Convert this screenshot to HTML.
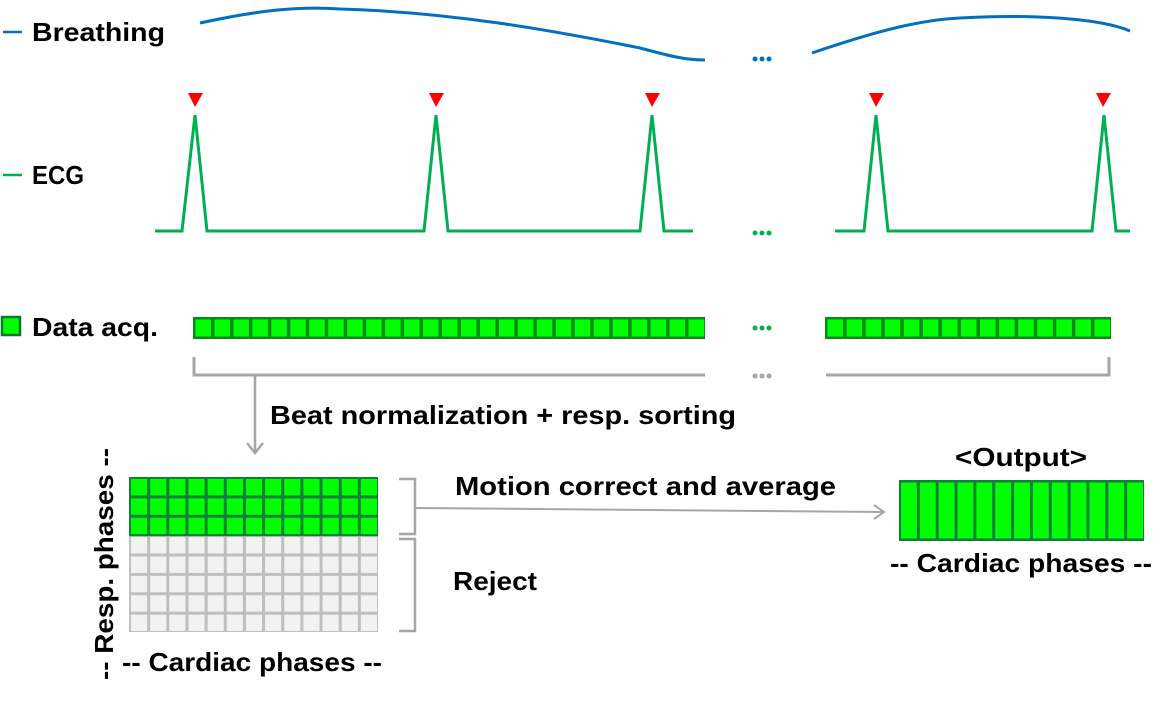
<!DOCTYPE html>
<html><head><meta charset="utf-8"><style>
body{margin:0;background:#fff;}
svg{display:block;font-family:"Liberation Sans",sans-serif;font-weight:bold;}
</style></head><body>
<svg id="s" width="1172" height="701" viewBox="0 0 1172 701" xmlns="http://www.w3.org/2000/svg">
<line x1="3" y1="32" x2="22" y2="32" stroke="#0070c0" stroke-width="2.5"/>
<text x="32" y="41" font-size="26" textLength="133" lengthAdjust="spacingAndGlyphs">Breathing</text>
<line x1="3" y1="175" x2="22" y2="175" stroke="#00b050" stroke-width="2.5"/>
<text x="32" y="184" font-size="26" textLength="52" lengthAdjust="spacingAndGlyphs">ECG</text>
<rect x="2" y="317" width="18" height="18" fill="#00ff00" stroke="#0a7a2a" stroke-width="2.5"/>
<text x="32" y="336" font-size="26" textLength="126" lengthAdjust="spacingAndGlyphs">Data acq.</text>
<path d="M200,23 C260,10 300,6 340,9 C450,12 550,30 640,48 C670,56 685,60 705,60" fill="none" stroke="#0070c0" stroke-width="3"/>
<path d="M812,53 C880,30 920,20 960,18 C1030,14 1100,18 1130,31" fill="none" stroke="#0070c0" stroke-width="3"/>
<g fill="#0070c0"><circle cx="755" cy="59" r="2.5"/><circle cx="762" cy="59" r="2.5"/><circle cx="769" cy="59" r="2.5"/></g>
<polyline fill="none" stroke="#00b050" stroke-width="3" points="155,231 182,231 195,115 207,231 424,231 436,115 448,231 640,231 652,115 664,231 693,231"/>
<polyline fill="none" stroke="#00b050" stroke-width="3" points="835,231 864,231 876,115 888,231 1092,231 1104,115 1116,231 1130,231"/>
<g fill="#00b050"><circle cx="755" cy="233" r="2.5"/><circle cx="762" cy="233" r="2.5"/><circle cx="769" cy="233" r="2.5"/></g>
<g fill="#ff0000">
<polygon points="188,93 203,93 195,107"/><polygon points="429,93 444,93 436,107"/><polygon points="645,93 660,93 652,107"/><polygon points="869,93 884,93 876,107"/><polygon points="1096,93 1111,93 1103,107"/>
</g>
<g id="acq"></g>
<g fill="#00b050"><circle cx="755" cy="328" r="2.5"/><circle cx="762" cy="328" r="2.5"/><circle cx="769" cy="328" r="2.5"/></g>
<polyline fill="none" stroke="#a6a6a6" stroke-width="3" points="194,357 194,375 705,375"/>
<polyline fill="none" stroke="#a6a6a6" stroke-width="3" points="826,375 1109,375 1109,357"/>
<g fill="#a6a6a6"><circle cx="755" cy="376" r="2.5"/><circle cx="762" cy="376" r="2.5"/><circle cx="769" cy="376" r="2.5"/></g>
<line x1="255" y1="375" x2="255" y2="452" stroke="#a6a6a6" stroke-width="2.5"/>
<polyline fill="none" stroke="#a6a6a6" stroke-width="2.5" points="247,443 255,453 263,443"/>
<text x="270" y="424" font-size="26" textLength="466" lengthAdjust="spacingAndGlyphs">Beat normalization + resp. sorting</text>
<g id="grid"></g>
<text transform="translate(113,680) rotate(-90)" font-size="26" textLength="232" lengthAdjust="spacingAndGlyphs">-- Resp. phases --</text>
<text x="122" y="671" font-size="26" textLength="260" lengthAdjust="spacingAndGlyphs">-- Cardiac phases --</text>
<polyline fill="none" stroke="#a6a6a6" stroke-width="2.5" points="399,479 415,479 415,534 399,534"/>
<polyline fill="none" stroke="#a6a6a6" stroke-width="2.5" points="399,539 415,539 415,631 399,631"/>
<line x1="415" y1="508" x2="882" y2="512" stroke="#a6a6a6" stroke-width="2"/>
<polyline fill="none" stroke="#a6a6a6" stroke-width="2" points="874,505 884,512 874,519"/>
<text x="455" y="495" font-size="26" textLength="381" lengthAdjust="spacingAndGlyphs">Motion correct and average</text>
<text x="453" y="590" font-size="26" textLength="84" lengthAdjust="spacingAndGlyphs">Reject</text>
<text x="955" y="466" font-size="26" textLength="132" lengthAdjust="spacingAndGlyphs">&lt;Output&gt;</text>
<g id="out"></g>
<text x="890" y="572" font-size="26" textLength="262" lengthAdjust="spacingAndGlyphs">-- Cardiac phases --</text>
</svg>
<script>
var NS="http://www.w3.org/2000/svg";
function r(p,x,y,w,h,f){var e=document.createElementNS(NS,"rect");e.setAttribute("x",x);e.setAttribute("y",y);e.setAttribute("width",w);e.setAttribute("height",h);e.setAttribute("fill",f);document.getElementById(p).appendChild(e);}
function bar(x0,x1,n){var w=(x1-x0)/n;r("acq",x0,317,x1-x0,22,"#0a8a1a");for(var i=0;i<n;i++)r("acq",x0+i*w+2.5,319.5,w-3.5,17,"#00ff00");}
bar(193,705,27);bar(825,1111,15);
var gx=129,gy=477,cw=(378-129)/13,ch=(632-477)/8;
r("grid",gx,gy,378-gx,632-gy,"#bfbfbf");
r("grid",gx,gy,378-gx,ch*3+1,"#0f7f3a");
for(var j=0;j<8;j++)for(var i=0;i<13;i++){r("grid",gx+i*cw+2,gy+j*ch+2,cw-3,ch-3,j<3?"#00ff00":"#f2f2f2");}
var ox=899,ow=1144-899,on=13,w2=ow/on;
r("out",ox,480,ow,61,"#0f7f3a");
for(var i=0;i<on;i++)r("out",ox+i*w2+2,482.5,w2-3,56,"#00ff00");
</script>
</body></html>
